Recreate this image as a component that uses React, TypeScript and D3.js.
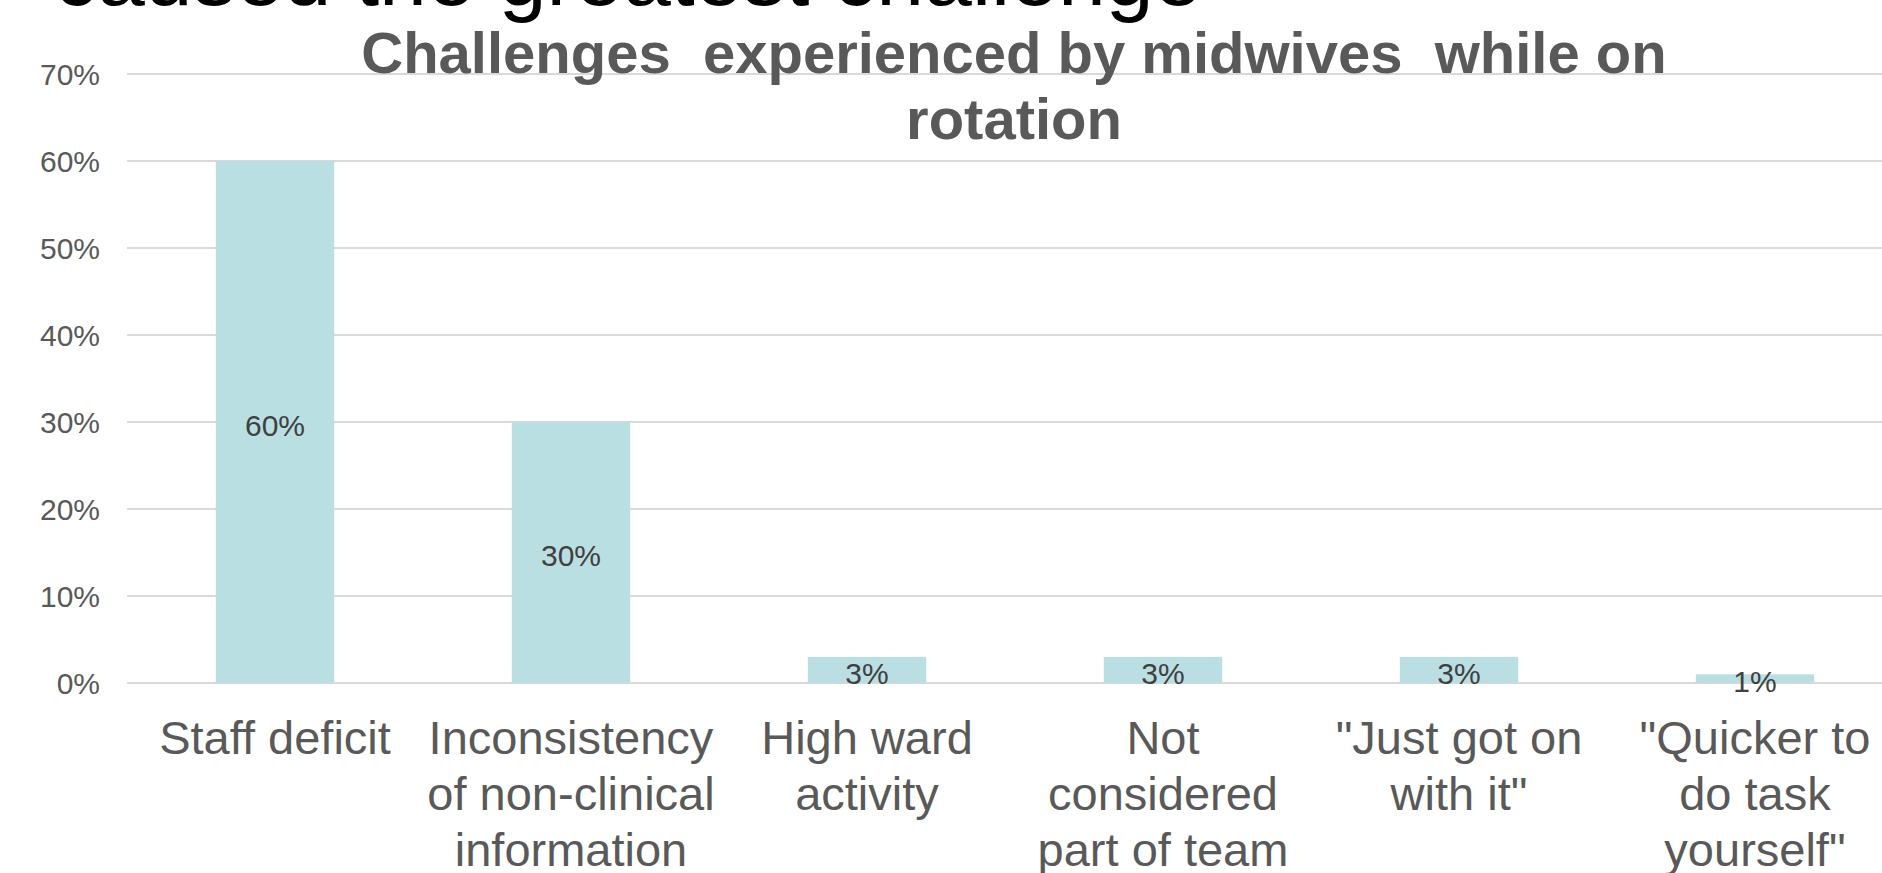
import React from "react";
import * as d3 from "d3";

const categories: string[][] = [
  ["Staff deficit"],
  ["Inconsistency", "of non-clinical", "information"],
  ["High ward", "activity"],
  ["Not", "considered", "part of team"],
  ["\"Just got on", "with it\""],
  ["\"Quicker to", "do task", "yourself\""],
];
const values: number[] = [0.6, 0.3, 0.03, 0.03, 0.03, 0.01];
const valueLabels: string[] = ["60%", "30%", "3%", "3%", "3%", "1%"];
const yTicks: number[] = [0, 0.1, 0.2, 0.3, 0.4, 0.5, 0.6, 0.7];
const titleLines: string[] = ["Challenges  experienced by midwives  while on", "rotation"];
const headerText = "caused the greatest challenge";

const W = 1882;
const H = 873;
const FONT = "'Liberation Sans', Arial, Helvetica, sans-serif";

export default function App() {
  const keys = categories.map((c) => c.join(" "));
  const x = d3
    .scaleBand<string>()
    .domain(keys)
    .range([127, 1903])
    .paddingInner(0.6)
    .paddingOuter(0.3);
  const y = d3.scaleLinear().domain([0, 0.7]).range([683, 74]);
  const fmt = d3.format(".0%");

  return (
    <svg
      width={W}
      height={H}
      viewBox={`0 0 ${W} ${H}`}
      style={{ position: "absolute", left: 0, top: 0, background: "#ffffff" }}
      fontFamily={FONT}
    >
      <rect x={0} y={0} width={W} height={H} fill="#ffffff" />
      {/* cut-off slide header */}
      <text x={54} y={5} fontSize={86} fill="#000000">
        {headerText}
      </text>
      {/* gridlines */}
      {yTicks.map((t) => (
        <line
          key={t}
          x1={127}
          x2={W}
          y1={y(t)}
          y2={y(t)}
          stroke="#d9d9d9"
          strokeWidth={2}
        />
      ))}
      {/* y tick labels */}
      {yTicks.map((t) => (
        <text
          key={"l" + t}
          x={100}
          y={y(t)}
          dy="0.36em"
          textAnchor="end"
          fontSize={30}
          fill="#595959"
        >
          {fmt(t)}
        </text>
      ))}
      {/* title */}
      {titleLines.map((l, i) => (
        <text
          key={l}
          x={1014}
          y={73 + i * 66}
          textAnchor="middle"
          fontSize={58}
          fontWeight="bold"
          fill="#595959"
          style={{ whiteSpace: "pre" }}
          xmlSpace="preserve"
        >
          {l}
        </text>
      ))}
      {/* bars */}
      {values.map((v, i) => (
        <rect
          key={keys[i]}
          x={x(keys[i])}
          y={y(v)}
          width={x.bandwidth()}
          height={y(0) - y(v)}
          fill="#badfe3"
        />
      ))}
      {/* value labels */}
      {values.map((v, i) => (
        <text
          key={"v" + i}
          x={(x(keys[i]) as number) + x.bandwidth() / 2}
          y={(y(v) + y(0)) / 2 + 3}
          dy="0.36em"
          textAnchor="middle"
          fontSize={30}
          fill="#404040"
        >
          {valueLabels[i]}
        </text>
      ))}
      {/* category labels */}
      {categories.map((lines, i) => (
        <text
          key={"c" + i}
          textAnchor="middle"
          fontSize={47}
          fill="#595959"
        >
          {lines.map((ln, j) => (
            <tspan
              key={j}
              x={(x(keys[i]) as number) + x.bandwidth() / 2}
              y={754 + j * 56}
            >
              {ln}
            </tspan>
          ))}
        </text>
      ))}
    </svg>
  );
}
